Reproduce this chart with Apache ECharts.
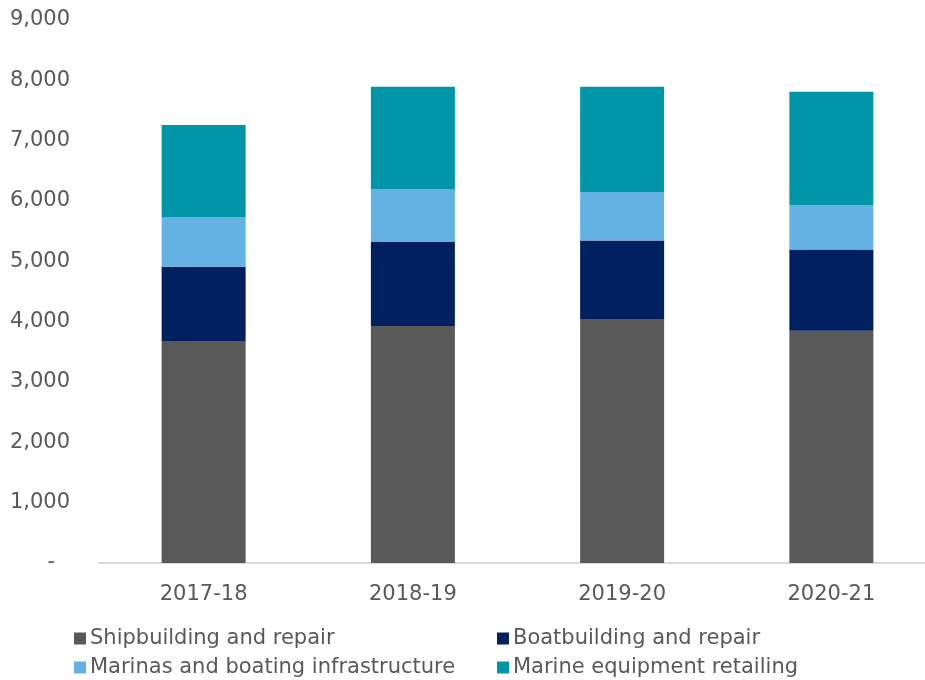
<!DOCTYPE html>
<html>
<head>
<meta charset="utf-8">
<script src="https://cdn.jsdelivr.net/npm/echarts@6/dist/echarts.min.js"></script>
<style>
  html, body { margin: 0; padding: 0; background: #ffffff; }
  #chart { width: 925px; height: 680px; }
</style>
</head>
<body>
<div id="chart"></div>
<script>
// Marine industry employment by sector, financial years
const years = ['2017-18', '2018-19', '2019-20', '2020-21'];
const shipbuilding = [3680, 3930, 4045, 3850];
const boatbuilding = [1230, 1390, 1300, 1345];
const marinas = [825, 880, 805, 740];
const marineRetail = [1525, 1695, 1745, 1875];

const seriesNames = [
  'Shipbuilding and repair',
  'Boatbuilding and repair',
  'Marinas and boating infrastructure',
  'Marine equipment retailing'
];
const seriesData = [shipbuilding, boatbuilding, marinas, marineRetail];
const colors = ['#595959', '#002060', '#63B2E3', '#0096A7'];

const textColor = '#595959';
const fontFamily = '"DejaVu Sans", Verdana, sans-serif';
const fontSize = 21;

const chart = echarts.init(document.getElementById('chart'), null, { renderer: 'canvas' });

// one legend block per entry so the two columns line up
const legendPos = [
  { left: 74, top: 628 },
  { left: 497, top: 628 },
  { left: 74, top: 657 },
  { left: 497, top: 657 }
];

chart.setOption({
  animation: false,
  color: colors,
  textStyle: { fontFamily: fontFamily },
  grid: {
    left: 99, top: 20, width: 837, height: 543,
    containLabel: false,
    outerBoundsMode: 'none'
  },
  legend: seriesNames.map((name, i) => ({
    data: [name],
    left: legendPos[i].left,
    top: legendPos[i].top,
    icon: 'rect',
    itemWidth: 12,
    itemHeight: 12,
    itemGap: 0,
    padding: 0,
    selectedMode: false,
    textStyle: { color: textColor, fontSize: fontSize, fontFamily: fontFamily, padding: [0, 0, 0, -1] }
  })),
  xAxis: {
    type: 'category',
    data: years,
    axisLine: { show: true, lineStyle: { color: '#d9d9d9', width: 2 } },
    axisTick: { show: false },
    axisLabel: { color: textColor, fontSize: fontSize, margin: 21, fontFamily: fontFamily }
  },
  yAxis: {
    type: 'value',
    min: 0,
    max: 9000,
    interval: 1000,
    axisLine: { show: false },
    axisTick: { show: false },
    splitLine: { show: false },
    axisLabel: {
      color: textColor,
      fontSize: fontSize,
      margin: 29,
      fontFamily: fontFamily,
      formatter: v => v === 0 ? '{d|-}' : v.toLocaleString('en-US'),
      rich: { d: { color: textColor, fontSize: fontSize, fontFamily: fontFamily, padding: [0, 15, 0, 0] } }
    }
  },
  series: seriesNames.map((name, i) => ({
    name: name,
    type: 'bar',
    stack: 'total',
    barWidth: 84,
    data: seriesData[i],
    itemStyle: { color: colors[i] }
  }))
});
</script>
</body>
</html>
